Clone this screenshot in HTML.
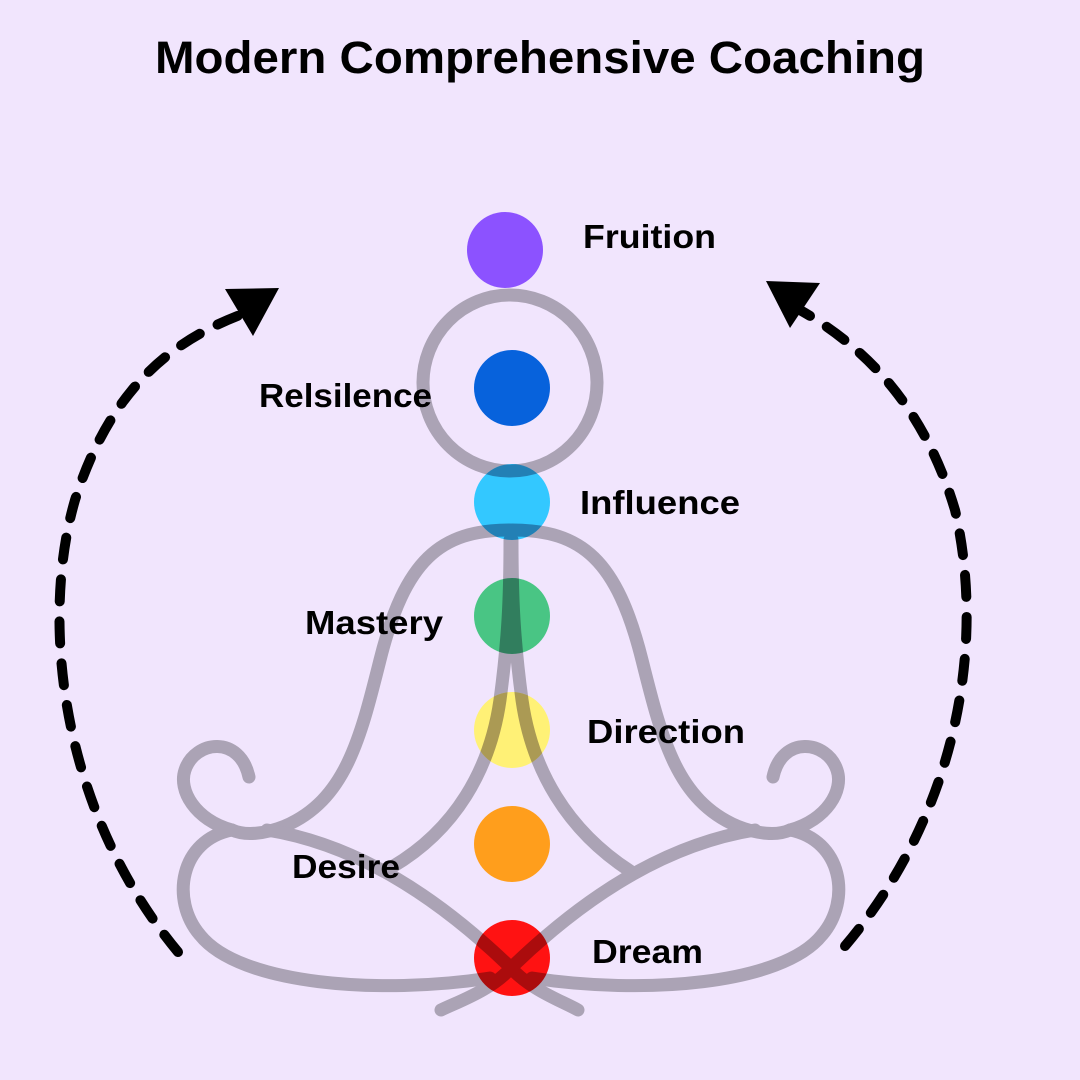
<!DOCTYPE html>
<html><head><style>
html,body{margin:0;padding:0;background:#f1e5fd;}
svg{display:block;}
text{font-family:"Liberation Sans",sans-serif;font-weight:bold;fill:#000;}
</style></head><body>
<svg width="1080" height="1080" viewBox="0 0 1080 1080" xmlns="http://www.w3.org/2000/svg">
<defs>
<clipPath id="dots">
<ellipse cx="512" cy="388" rx="38" ry="38"/>
<ellipse cx="512" cy="502" rx="38" ry="38"/>
<ellipse cx="512" cy="616" rx="38" ry="38"/>
<ellipse cx="512" cy="730" rx="38" ry="38"/>
<ellipse cx="512" cy="844" rx="38" ry="38"/>
<ellipse cx="512" cy="958" rx="38" ry="38"/>
</clipPath>
<g id="fig" fill="none" stroke-width="13" stroke-linecap="round">
<ellipse cx="510" cy="383" rx="87" ry="88"/>
<path d="M510,530 C440,530 405,560 380,660 C360,740 345,800 285,826 C265,834 245,836 232,830 C195,820 178,790 185,770 C195,740 240,735 249,777"/>
<path d="M512,530 C582,530 617,560 642,660 C662,740 677,800 737,826 C757,834 777,836 790,830 C827,820 844,790 837,770 C827,740 782,735 773,777"/>
<path d="M510,540 C510,600 508,640 500,700 C490,770 455,830 392,867"/>
<path d="M512,540 C512,600 514,640 522,700 C532,770 567,830 630,871"/>
<path d="M232,830 C180,840 170,900 200,935 C240,985 380,995 490,978"/>
<path d="M790,830 C842,840 852,900 822,935 C782,985 642,995 532,978"/>
<path d="M267,830 C360,845 440,900 508,965 C530,990 560,1000 578,1010"/>
<path d="M755,830 C662,845 582,900 514,965 C492,990 462,1000 441,1010"/>
</g>
</defs>
<rect width="1080" height="1080" fill="#f1e5fd"/>
<text x="540" y="73" font-size="45" text-anchor="middle" textLength="770" lengthAdjust="spacingAndGlyphs">Modern Comprehensive Coaching</text>
<use href="#fig" stroke="#aba3b5"/>
<circle cx="505" cy="250" r="38" fill="#8c52ff"/>
<ellipse cx="512" cy="388" rx="38" ry="38" fill="#0762dc"/>
<ellipse cx="512" cy="502" rx="38" ry="38" fill="#33c8ff"/>
<ellipse cx="512" cy="616" rx="38" ry="38" fill="#49c584"/>
<ellipse cx="512" cy="730" rx="38" ry="38" fill="#fff176"/>
<ellipse cx="512" cy="844" rx="38" ry="38" fill="#ff9e1c"/>
<ellipse cx="512" cy="958" rx="38" ry="38" fill="#ff1212"/>
<g clip-path="url(#dots)" style="mix-blend-mode:multiply"><use href="#fig" stroke="#aba3b5"/></g>
<g fill="none" stroke="#000" stroke-width="10" stroke-linecap="round" stroke-dasharray="22 20">
<path d="M178,952 C60,810 40,620 75,500 C110,390 170,340 248,312"/>
<path d="M845,946 C960,810 985,640 955,510 C925,410 870,350 800,310"/>
</g>
<polygon points="225,289 279,288 253,336" fill="#000"/>
<polygon points="766,281 820,283 790,328" fill="#000"/>
<g font-size="33">
<text x="583" y="248" textLength="133" lengthAdjust="spacingAndGlyphs">Fruition</text>
<text x="259" y="407" textLength="173" lengthAdjust="spacingAndGlyphs">Relsilence</text>
<text x="580" y="514" textLength="160" lengthAdjust="spacingAndGlyphs">Influence</text>
<text x="305" y="634" textLength="138" lengthAdjust="spacingAndGlyphs">Mastery</text>
<text x="587" y="743" textLength="158" lengthAdjust="spacingAndGlyphs">Direction</text>
<text x="292" y="878" textLength="108" lengthAdjust="spacingAndGlyphs">Desire</text>
<text x="592" y="963" textLength="111" lengthAdjust="spacingAndGlyphs">Dream</text>
</g>
</svg>
</body></html>
